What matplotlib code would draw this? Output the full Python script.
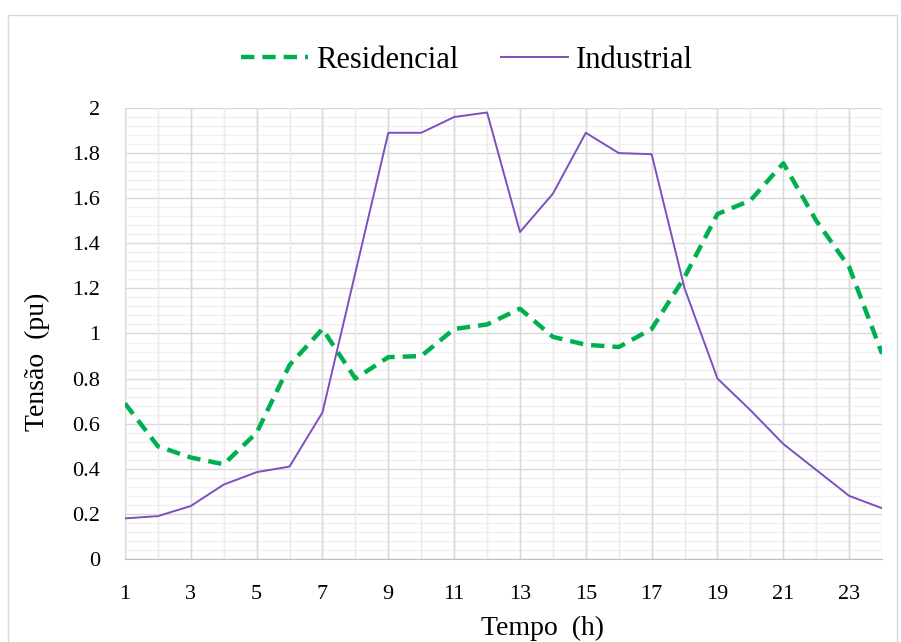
import numpy as np
import matplotlib.pyplot as plt
from matplotlib.patches import Rectangle
from matplotlib.ticker import MultipleLocator

plt.rcParams['font.family'] = ['Liberation Serif', 'DejaVu Serif']

# hourly data
horas = list(range(1, 25))
residencial = [0.69, 0.50, 0.45, 0.42, 0.56, 0.86, 1.02, 0.80, 0.895, 0.90, 1.02, 1.04,
               1.11, 0.985, 0.95, 0.94, 1.02, 1.25, 1.53, 1.59, 1.755, 1.50, 1.295, 0.91]
industrial = [0.18, 0.19, 0.235, 0.33, 0.385, 0.41, 0.65, 1.27, 1.89, 1.89, 1.96, 1.98,
              1.45, 1.62, 1.89, 1.80, 1.795, 1.20, 0.80, 0.66, 0.51, 0.395, 0.28, 0.225]
xticks = [1, 3, 5, 7, 9, 11, 13, 15, 17, 19, 21, 23]
yticks = [0, 0.2, 0.4, 0.6, 0.8, 1.0, 1.2, 1.4, 1.6, 1.8, 2.0]
ylabels = ['0', '0.2', '0.4', '0.6', '0.8', '1', '1.2', '1.4', '1.6', '1.8', '2']

fig = plt.figure(figsize=(9.01, 6.42), dpi=100)
ax = fig.add_axes([0.1387, 0.1293, 0.8403, 0.7025])

# chart area border
fig.patches.append(Rectangle((8 / 901, -0.01), 889 / 901, 1 - 15 / 642 + 0.01,
                             transform=fig.transFigure, fill=False,
                             edgecolor='#d9d9d9', linewidth=1))

l1, = ax.plot(horas, residencial, color='#00B050', linestyle=(0, (3, 1.8)), linewidth=3.2,
              label='Residencial', zorder=3)
l2, = ax.plot(horas, industrial, color='#7E4FBF', linewidth=1.4, label='Industrial', zorder=3)

ax.set_xlim(1, 24)
ax.set_ylim(0, 2)
ax.set_xticks(xticks)
ax.set_yticks(yticks)
ax.set_yticklabels(ylabels)
ax.xaxis.set_minor_locator(MultipleLocator(1))
ax.yaxis.set_minor_locator(MultipleLocator(0.04))
ax.grid(which='minor', color='#f0f0f0', linewidth=1)
ax.grid(which='major', color='#d9d9d9', linewidth=1)
# every hour gets a stronger line
for h in horas:
    ax.axvline(h, color='#d9d9d9' if h % 2 == 1 else '#ececec', linewidth=1, zorder=1)
ax.set_axisbelow(True)

ax.tick_params(which='both', length=0, labelsize=16)
ax.tick_params(axis='x', pad=19)
ax.tick_params(axis='y', pad=18)
for s in ['top', 'right']:
    ax.spines[s].set_visible(False)
ax.spines['left'].set_color('#d9d9d9')
ax.spines['bottom'].set_color('#bfbfbf')

ax.set_xlabel('Tempo  (h)', fontsize=20)
ax.set_ylabel('Tensão  (pu)', fontsize=20)
ax.xaxis.set_label_coords(0.552, -0.126)
ax.yaxis.set_label_coords(-0.099, 0.437)

fig.legend(handles=[l1, l2], loc='center', bbox_to_anchor=(0.518, 0.906), ncol=2,
           frameon=False, fontsize=22, handlelength=2.2, columnspacing=1.4,
           handletextpad=0.25)

plt.savefig('out.png', dpi=100)
